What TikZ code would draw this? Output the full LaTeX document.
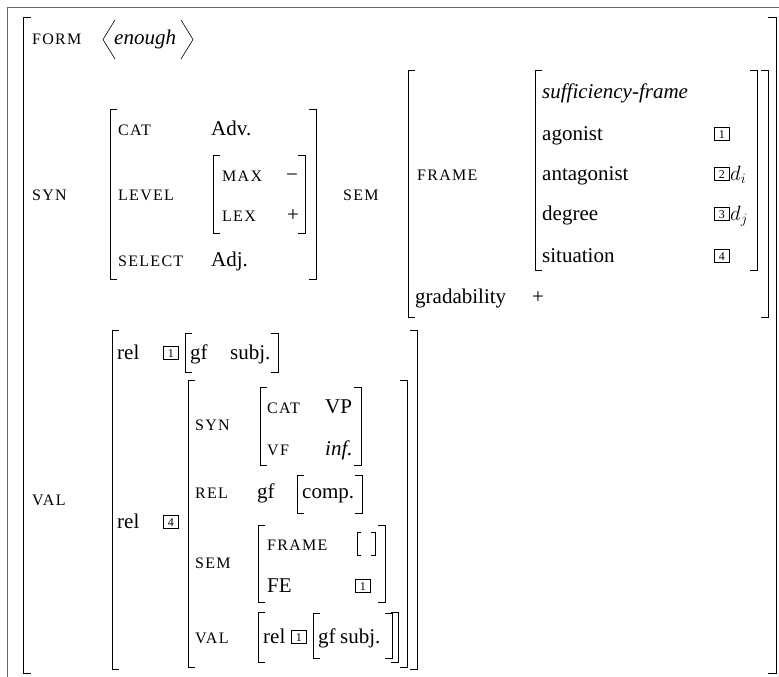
\documentclass[tikz,border=0pt]{standalone}
\usepackage{fontspec}
\setmainfont{Liberation Serif}
\newfontfamily\capsfont[LetterSpace=8]{Liberation Serif}

\tikzset{
    attr/.style={anchor=base west, inner sep=0pt, font=\capsfont\fontsize{16}{18}\selectfont},
    word/.style={anchor=base west, inner sep=0pt, font=\fontsize{21}{25}\selectfont},
    tag/.style={draw, line width=0.6pt, anchor=south west, inner sep=0pt,
        minimum width=15pt, minimum height=13pt, font=\fontsize{12}{12}\selectfont},
    brack/.style={line width=0.9pt},
    edge/.style={draw=black!60, line width=1pt}
}

\newcommand{\avmbrack}[5][7]{%
    \draw[brack] (#2+#1,#3) -- (#2,#3) -- (#2,#5) -- (#2+#1,#5);
    \draw[brack] (#4-#1,#3) -- (#4,#3) -- (#4,#5) -- (#4-#1,#5);}

\begin{document}
\begin{tikzpicture}[x=1pt, y=-1pt]
    \useasboundingbox (0,0) rectangle (779,677);
    \draw[edge] (7.5,677) -- (7.5,7.5) -- (779,7.5);

    \node[attr] (form) at (32,45) {FORM};
    \node[word] (enough) at (114,45) {\textit{enough}};
    \draw[line width=0.6pt] (115,20) -- (103,39.5) -- (115,59);
    \draw[line width=0.6pt] (181,20) -- (193,39.5) -- (181,59);

    \node[attr] (syn) at (32,200) {SYN};
    \node[attr] (cat) at (118,135) {CAT};
    \node[word] (adv) at (211,135) {Adv.};
    \node[attr] (level) at (118,200) {LEVEL};
    \node[attr] (max) at (222,181) {MAX};
    \node[word] (maxv) at (286,181) {−};
    \node[attr] (lex) at (222,221) {LEX};
    \node[word] (lexv) at (287,221) {+};
    \node[attr] (select) at (118,266) {SELECT};
    \node[word] (adj) at (211,266) {Adj.};

    \node[attr] (sem) at (343,200) {SEM};
    \node[attr] (frame) at (417,180) {FRAME};
    \node[word] (sfr) at (542,98) {\textit{sufficiency-frame}};
    \node[word] (agon) at (542,140) {agonist};
    \node[word] (antag) at (542,180) {antagonist};
    \node[word] (degr) at (542,220) {degree};
    \node[word] (situ) at (542,262) {situation};
    \node[tag] (t1) at (714,141) {1};
    \node[tag] (t2) at (714,181) {2};
    \node[word] (di) at (730,180) {$d_i$};
    \node[tag] (t3) at (714,221) {3};
    \node[word] (dj) at (730,220) {$d_j$};
    \node[tag] (t4) at (714,263) {4};
    \node[word] (grad) at (415,303) {gradability};
    \node[word] (gradv) at (532,303) {+};

    \node[attr] (val) at (32,505) {VAL};
    \node[word] (rela) at (117,359) {rel};
    \node[tag] (ta) at (163,360) {1};
    \node[word] (gfa) at (190,359) {gf};
    \node[word] (subja) at (230,359) {subj.};
    \node[word] (relb) at (117,528) {rel};
    \node[tag] (tb) at (163,529) {4};

    \node[attr] (isyn) at (195,430) {SYN};
    \node[attr] (icat) at (267,413) {CAT};
    \node[word] (vp) at (325,413) {VP};
    \node[attr] (ivf) at (267,455) {VF};
    \node[word] (inf) at (325,455) {\textit{inf.}};
    \node[attr] (irel) at (195,498) {REL};
    \node[word] (igf) at (257,498) {gf};
    \node[word] (comp) at (302,498) {comp.};
    \node[attr] (isem) at (195,568) {SEM};
    \node[attr] (iframe) at (267,550) {FRAME};
    \node[word] (ife) at (267,592) {FE};
    \node[tag] (tc) at (355,593) {1};
    \node[attr] (ival) at (195,643) {VAL};
    \node[word] (relc) at (263,643) {rel};
    \node[tag] (td) at (291,644) {1};
    \node[word] (gfc) at (318,643) {gf};
    \node[word] (subjc) at (340,643) {subj.};

    \avmbrack[8]{23}{17}{776}{673}
    \avmbrack{110}{109}{316}{279}
    \avmbrack{213}{155}{305}{233}
    \avmbrack{408}{70}{768}{317}
    \avmbrack{535}{70}{757}{270}
    \avmbrack{112}{330}{417}{669}
    \avmbrack{185}{333}{278}{372}
    \avmbrack{188}{380}{407}{667}
    \avmbrack{260}{387}{361}{465}
    \avmbrack{297}{475}{362}{513}
    \avmbrack{258}{525}{385}{602}
    \avmbrack[4]{357}{532}{375}{555}
    \avmbrack{258}{612}{398}{662}
    \avmbrack{313}{613}{392}{658}
\end{tikzpicture}
\end{document}
